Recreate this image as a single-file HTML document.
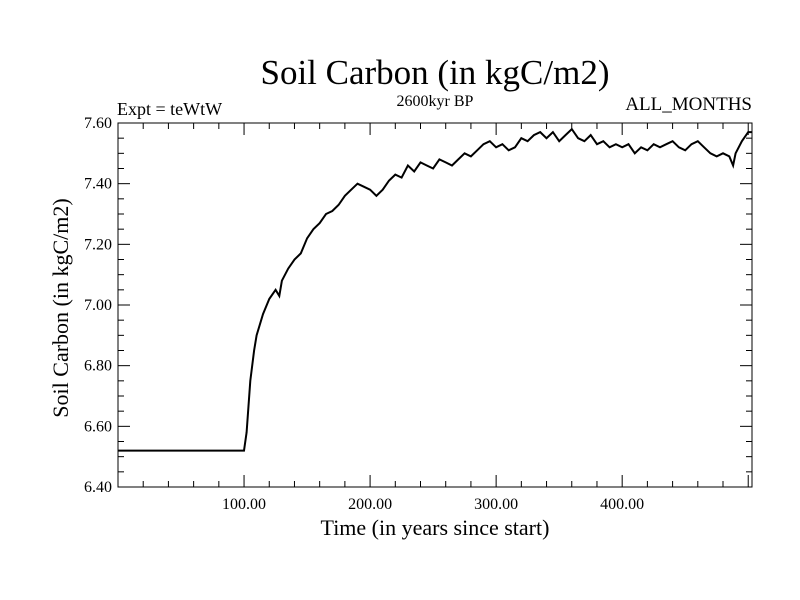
<!DOCTYPE html>
<html><head><meta charset="utf-8"><style>
body{margin:0;background:#fff;}
svg{display:block;font-family:"Liberation Serif",serif;}
</style></head><body>
<svg id="chart" width="800" height="600">
<text x="435" y="84" font-size="35" text-anchor="middle">Soil Carbon (in kgC/m2)</text>
<text x="435" y="106" font-size="16" text-anchor="middle">2600kyr BP</text>
<text x="117" y="115" font-size="18">Expt = teWtW</text>
<text x="752" y="110" font-size="19" text-anchor="end">ALL_MONTHS</text>
<text x="435" y="535" font-size="22" text-anchor="middle">Time (in years since start)</text>
<text transform="translate(68,308) rotate(-90)" font-size="22" text-anchor="middle">Soil Carbon (in kgC/m2)</text>
<g id="axes"></g>
<rect x="118" y="123" width="634" height="364" fill="none" stroke="#000" stroke-width="1"/>
</svg>
<script>
const years=[0,100,102,105,108,110,115,120,125,128,130,135,140,145,150,155,160,165,170,175,180,185,190,195,200,205,210,215,220,225,230,235,240,245,250,255,260,265,270,275,280,285,290,295,300,305,310,315,320,325,330,335,340,345,350,355,360,365,370,375,380,385,390,395,400,405,410,415,420,425,430,435,440,445,450,455,460,465,470,475,480,485,488,490,495,500,503];
const carbon=[6.52,6.52,6.58,6.75,6.85,6.90,6.97,7.02,7.05,7.03,7.08,7.12,7.15,7.17,7.22,7.25,7.27,7.30,7.31,7.33,7.36,7.38,7.40,7.39,7.38,7.36,7.38,7.41,7.43,7.42,7.46,7.44,7.47,7.46,7.45,7.48,7.47,7.46,7.48,7.50,7.49,7.51,7.53,7.54,7.52,7.53,7.51,7.52,7.55,7.54,7.56,7.57,7.55,7.57,7.54,7.56,7.58,7.55,7.54,7.56,7.53,7.54,7.52,7.53,7.52,7.53,7.50,7.52,7.51,7.53,7.52,7.53,7.54,7.52,7.51,7.53,7.54,7.52,7.50,7.49,7.50,7.49,7.46,7.50,7.54,7.57,7.57];
const xTicks=[100,200,300,400];
const xTickLabels=["100.00","200.00","300.00","400.00"];
const yTicks=[6.4,6.6,6.8,7.0,7.2,7.4,7.6];
const yTickLabels=["6.40","6.60","6.80","7.00","7.20","7.40","7.60"];
const X0=118,X1=752,Y0=487,Y1=123,xmin=0,xmax=503,ymin=6.4,ymax=7.6;
const sx=v=>X0+(v-xmin)/(xmax-xmin)*(X1-X0);
const sy=v=>Y0-(v-ymin)/(ymax-ymin)*(Y0-Y1);
const NS="http://www.w3.org/2000/svg";
const g=document.getElementById('axes');
function line(x1,y1,x2,y2,name){const l=document.createElementNS(NS,'line');l.setAttribute('x1',x1);l.setAttribute('y1',y1);l.setAttribute('x2',x2);l.setAttribute('y2',y2);l.setAttribute('stroke','#000');


g.appendChild(l);}
function text(x,y,s,anchor,name){const t=document.createElementNS(NS,'text');t.setAttribute('x',x);t.setAttribute('y',y);t.setAttribute('font-size','16');t.setAttribute('text-anchor',anchor);t.textContent=s;


g.appendChild(t);}
for(let v=20;v<xmax;v+=20){const major=v%100===0;const L=major?12:6;const x=sx(v);line(x,Y0,x,Y0-L,'x-tick');line(x,Y1,x,Y1+L,'x-tick-top');}
xTicks.forEach((v,i)=>text(sx(v),Y0+22,xTickLabels[i],'middle','x-tick-label'));
for(let k=0;k<=24;k++){const v=ymin+k*0.05;const major=k%4===0;const L=major?12:6;const y=sy(v);line(X0,y,X0+L,y,'y-tick');line(X1,y,X1-L,y,'y-tick-right');}
yTicks.forEach((v,i)=>text(X0-6,sy(v)+5,yTickLabels[i],'end','y-tick-label'));
const p=document.createElementNS(NS,'path');
p.setAttribute('d',years.map((v,i)=>(i?'L':'M')+sx(v).toFixed(1)+','+sy(carbon[i]).toFixed(1)).join(''));
p.setAttribute('fill','none');p.setAttribute('stroke','#000');p.setAttribute('stroke-width','2');


g.appendChild(p);
</script>
</body></html>
